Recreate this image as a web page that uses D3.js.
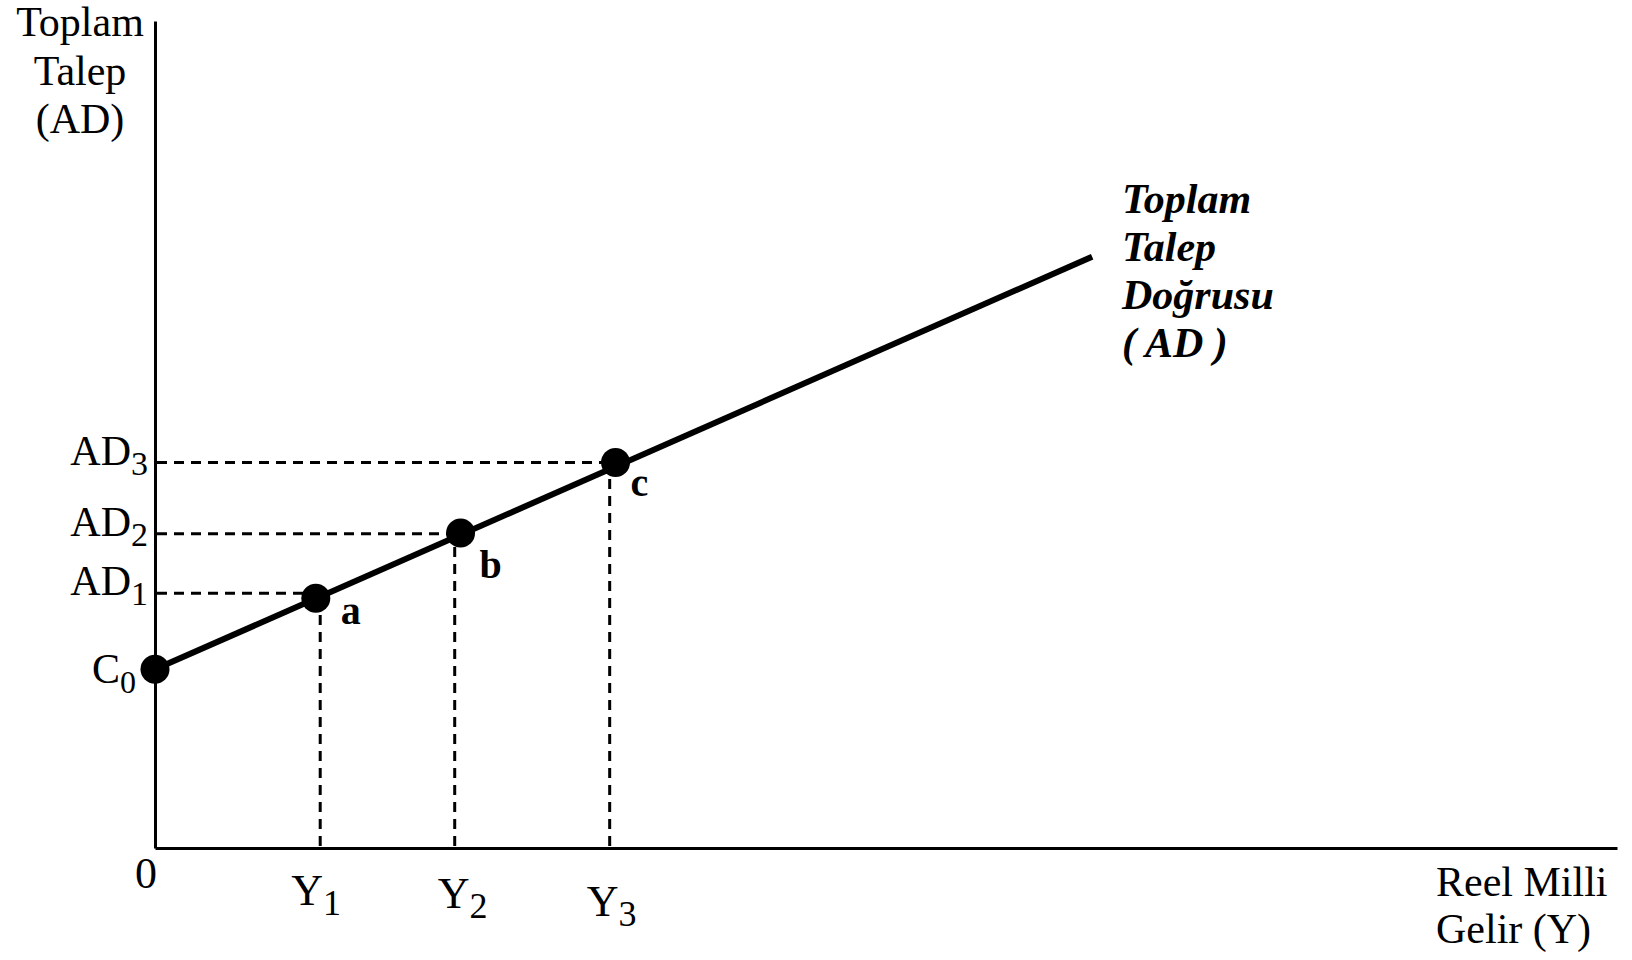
<!DOCTYPE html>
<html>
<head>
<meta charset="utf-8">
<script src="https://cdn.jsdelivr.net/npm/d3@7"></script>
<style>
  html, body { margin: 0; padding: 0; background: #fff; }
  svg { display: block; }
  text { font-family: "Liberation Serif", "Times New Roman", serif; fill: #000; }
</style>
</head>
<body>
<svg id="chart" width="1632" height="960"></svg>
<script>
// ---- Data (values in abstract chart units) ----
const lineStart = [0, 2.16];          // C0 intercept
const lineEnd = [6.41, 7.15];         // end of AD line
const pointNames = ["a", "b", "c"];
const pointX = [1.10, 2.09, 3.15];
const pointY = [3.02, 3.81, 4.66];
const yTickValues = [1.13, 2.05, 3.11];   // Y1, Y2, Y3
const yTickSubs = ["1", "2", "3"];
const adTickValues = [3.08, 3.80, 4.66];  // AD1, AD2, AD3
const adTickSubs = ["1", "2", "3"];
const interceptLabel = ["C", "0"];
const yTitle = ["Toplam", "Talep", "(AD)"];
const xTitle = ["Reel Milli", "Gelir (Y)"];
const curveTitle = ["Toplam", "Talep", "Doğrusu", "( AD )"];

// ---- Layout constants (pixel offsets for labels) ----
const pointLabelOffset = [[25, 26], [19, 45], [15, 33]];
const yTickLabelBaseline = [905, 908, 916];
const yTickLabelShift = [-4, 8, 2];

const svg = d3.select("#chart");
const x = d3.scaleLinear().domain([0, 10]).range([155, 1617]);
const y = d3.scaleLinear().domain([0, 10]).range([848, 21]);

// Axes (domain lines only)
svg.append("g")
  .attr("transform", `translate(0,${y(0)})`)
  .call(d3.axisBottom(x).tickValues([]).tickSizeOuter(0))
  .call(g => g.select(".domain").attr("stroke", "#000").attr("stroke-width", 3));
svg.append("g")
  .attr("transform", `translate(${x(0)},0)`)
  .call(d3.axisLeft(y).tickValues([]).tickSizeOuter(0))
  .call(g => g.select(".domain").attr("stroke", "#000").attr("stroke-width", 3));

// Dashed guides
const guides = svg.append("g").attr("stroke", "#000").attr("stroke-width", 3)
  .attr("stroke-dasharray", "10,7").attr("fill", "none");
adTickValues.forEach((v, i) => {
  guides.append("line")
    .attr("x1", x(0) + 2).attr("x2", x(pointX[i]))
    .attr("y1", y(v)).attr("y2", y(v));
});
yTickValues.forEach((v, i) => {
  guides.append("line")
    .attr("x1", x(v)).attr("x2", x(v))
    .attr("y1", y(0) - 2).attr("y2", y(pointY[i]));
});

// AD line
svg.append("path")
  .datum([lineStart, lineEnd])
  .attr("d", d3.line().x(d => x(d[0])).y(d => y(d[1])))
  .attr("stroke", "#000").attr("stroke-width", 6).attr("fill", "none");

// Dots
const dotData = [[lineStart[0], lineStart[1]]].concat(pointX.map((v, i) => [v, pointY[i]]));
svg.append("g").selectAll("circle").data(dotData).join("circle")
  .attr("cx", d => x(d[0])).attr("cy", d => y(d[1])).attr("r", 14.5).attr("fill", "#000");

// Point labels a, b, c
svg.append("g").selectAll("text").data(pointNames).join("text")
  .attr("x", (d, i) => x(pointX[i]) + pointLabelOffset[i][0])
  .attr("y", (d, i) => y(pointY[i]) + pointLabelOffset[i][1])
  .attr("font-size", 40).attr("font-weight", "bold")
  .text(d => d);

// AD tick labels
adTickValues.forEach((v, i) => {
  const t = svg.append("text")
    .attr("x", 148).attr("y", y(v) + 2)
    .attr("text-anchor", "end").attr("font-size", 42);
  t.append("tspan").text("AD");
  t.append("tspan").attr("dy", 10).attr("font-size", 34).text(adTickSubs[i]);
});

// C0 label
{
  const t = svg.append("text")
    .attr("x", 136).attr("y", y(lineStart[1]) + 14)
    .attr("text-anchor", "end").attr("font-size", 42);
  t.append("tspan").text(interceptLabel[0]);
  t.append("tspan").attr("dy", 10).attr("font-size", 32).text(interceptLabel[1]);
}

// Y tick labels
yTickValues.forEach((v, i) => {
  const t = svg.append("text")
    .attr("x", x(v) + yTickLabelShift[i]).attr("y", yTickLabelBaseline[i])
    .attr("text-anchor", "middle").attr("font-size", 44);
  t.append("tspan").text("Y");
  t.append("tspan").attr("dy", 10).attr("font-size", 36).text(yTickSubs[i]);
});

// Origin
svg.append("text").attr("x", 146).attr("y", 888)
  .attr("text-anchor", "middle").attr("font-size", 44).text("0");

// Y axis title
svg.append("g").selectAll("text").data(yTitle).join("text")
  .attr("x", 80).attr("y", (d, i) => 36 + i * 48.5)
  .attr("text-anchor", "middle").attr("font-size", 42)
  .text(d => d);

// X axis title
svg.append("g").selectAll("text").data(xTitle).join("text")
  .attr("x", 1436).attr("y", (d, i) => 896 + i * 47)
  .attr("font-size", 42)
  .text(d => d);

// Curve title
svg.append("g").selectAll("text").data(curveTitle).join("text")
  .attr("x", 1122).attr("y", (d, i) => 213 + i * 48)
  .attr("font-size", 42).attr("font-weight", "bold").attr("font-style", "italic")
  .text(d => d);
</script>
</body>
</html>
